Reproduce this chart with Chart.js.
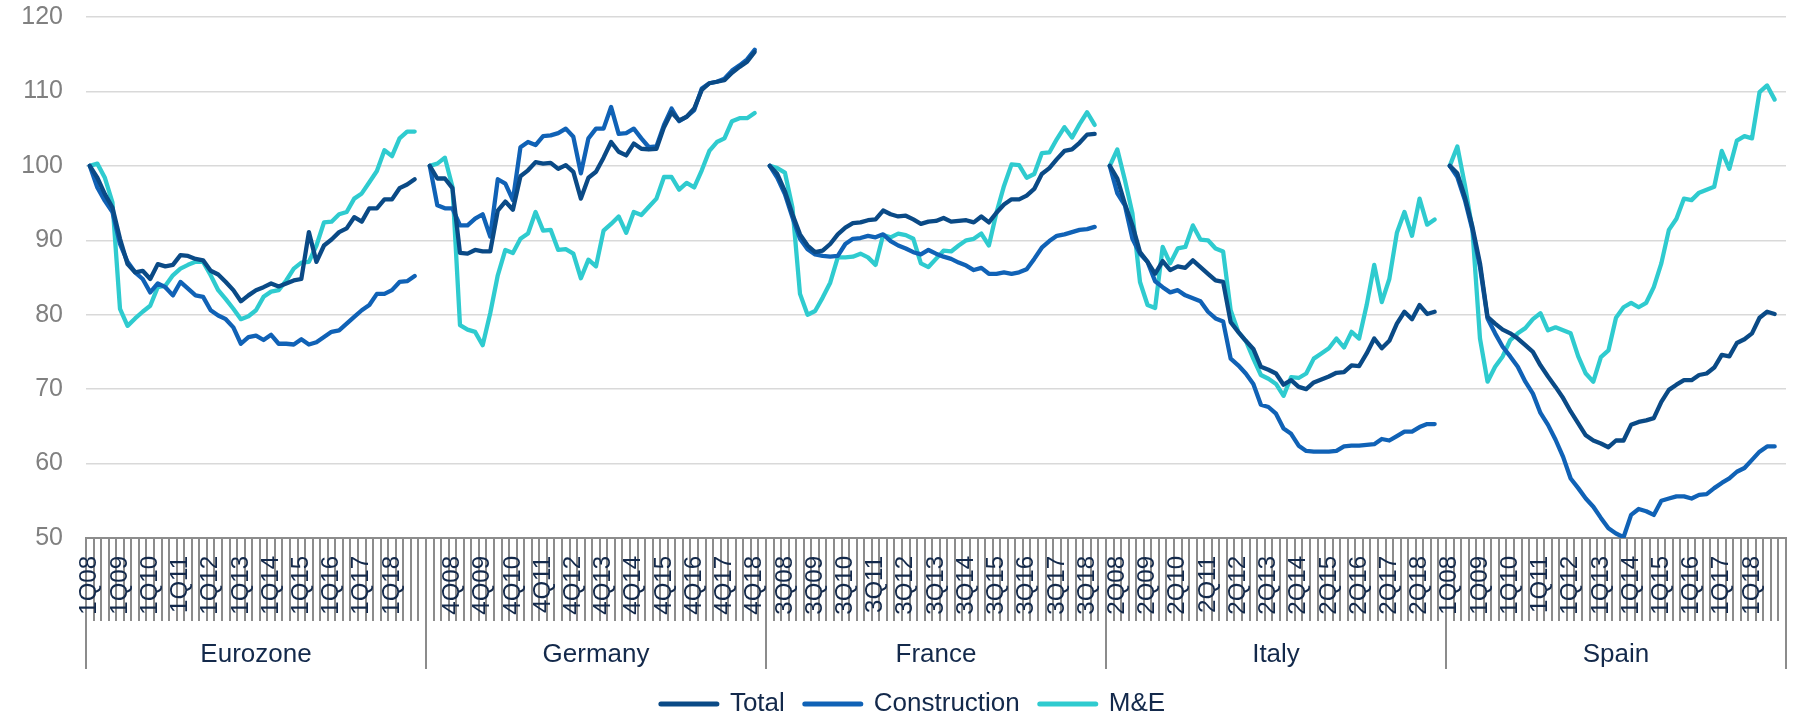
<!DOCTYPE html>
<html>
<head>
<meta charset="utf-8">
<script src="https://cdn.jsdelivr.net/npm/chart.js@4.4.0/dist/chart.umd.min.js"></script>
<style>
  html, body { margin: 0; padding: 0; background: #fff; }
  #wrap { width: 1797px; height: 718px; }
</style>
</head>
<body>
<div id="wrap"><canvas id="chart"></canvas></div>
<script>
const countries = ['Eurozone', 'Germany', 'France', 'Italy', 'Spain'];
const quarters = [
  '1Q08','2Q08','3Q08','4Q08','1Q09','2Q09','3Q09','4Q09','1Q10','2Q10','3Q10','4Q10',
  '1Q11','2Q11','3Q11','4Q11','1Q12','2Q12','3Q12','4Q12','1Q13','2Q13','3Q13','4Q13',
  '1Q14','2Q14','3Q14','4Q14','1Q15','2Q15','3Q15','4Q15','1Q16','2Q16','3Q16','4Q16',
  '1Q17','2Q17','3Q17','4Q17','1Q18','2Q18','3Q18','4Q18'
];

// Eurozone
const eurozoneTotal = [100, 98.4, 96.2, 94.4, 90.2, 86.8, 85.7, 85.9, 84.8, 86.8, 86.5, 86.7, 88.0, 87.9, 87.5, 87.3, 85.9, 85.4, 84.4, 83.3, 81.8, 82.6, 83.3, 83.7, 84.2, 83.8, 84.2, 84.6, 84.8, 91.1, 87.1, 89.3, 90.1, 91.1, 91.6, 93.1, 92.5, 94.3, 94.3, 95.5, 95.5, 97.0, 97.5, 98.2];
const eurozoneConstruction = [100, 97.1, 95.3, 93.8, 89.5, 87.1, 85.7, 84.8, 83.0, 84.2, 83.7, 82.6, 84.4, 83.5, 82.6, 82.4, 80.6, 79.9, 79.4, 78.3, 76.1, 77.0, 77.2, 76.6, 77.3, 76.1, 76.1, 76.0, 76.7, 76.0, 76.3, 77.0, 77.7, 77.9, 78.8, 79.7, 80.6, 81.3, 82.8, 82.8, 83.3, 84.4, 84.5, 85.2];
const eurozoneME = [100, 100.3, 98.4, 95.1, 80.8, 78.5, 79.5, 80.4, 81.2, 83.7, 83.9, 85.3, 86.2, 86.7, 87.1, 87.1, 85.3, 83.3, 82.1, 80.8, 79.4, 79.8, 80.6, 82.4, 83.1, 83.3, 84.6, 86.2, 87.0, 87.1, 89.3, 92.4, 92.5, 93.5, 93.8, 95.6, 96.3, 97.8, 99.3, 102.1, 101.3, 103.7, 104.6, 104.6];

// Germany
const germanyTotal = [100, 98.3, 98.3, 97.0, 88.3, 88.2, 88.7, 88.5, 88.5, 94.0, 95.2, 94.1, 98.6, 99.4, 100.5, 100.3, 100.4, 99.6, 100.1, 99.2, 95.6, 98.4, 99.2, 101.1, 103.2, 101.9, 101.4, 103.0, 102.3, 102.2, 102.3, 105.2, 107.2, 106.1, 106.6, 107.7, 110.2, 111.1, 111.3, 111.5, 112.5, 113.3, 114.0, 115.3];
const germanyConstruction = [100, 94.7, 94.3, 94.3, 92.0, 92.0, 92.9, 93.5, 90.5, 98.2, 97.6, 95.4, 102.5, 103.2, 102.8, 104.0, 104.1, 104.4, 105.0, 103.9, 99.0, 103.7, 105.0, 105.0, 107.9, 104.3, 104.4, 105.0, 103.7, 102.5, 102.6, 105.5, 107.7, 106.0, 106.6, 107.5, 110.4, 111.1, 111.3, 111.7, 112.8, 113.5, 114.3, 115.6];
const germanyME = [100, 100.3, 101.1, 97.2, 78.6, 78.0, 77.7, 75.9, 80.2, 85.3, 88.7, 88.3, 90.2, 90.9, 93.8, 91.3, 91.4, 88.7, 88.8, 88.2, 84.9, 87.4, 86.5, 91.3, 92.2, 93.2, 91.0, 93.8, 93.4, 94.5, 95.6, 98.5, 98.5, 96.8, 97.7, 97.1, 99.4, 102.0, 103.2, 103.7, 106.0, 106.4, 106.4, 107.1];

// France
const franceTotal = [100, 98.9, 96.6, 93.5, 90.8, 89.3, 88.4, 88.6, 89.5, 90.8, 91.7, 92.3, 92.4, 92.7, 92.8, 94.0, 93.5, 93.2, 93.3, 92.8, 92.2, 92.5, 92.6, 93.0, 92.5, 92.6, 92.7, 92.4, 93.2, 92.4, 93.7, 94.8, 95.5, 95.5, 96.0, 96.9, 98.9, 99.7, 100.9, 102.0, 102.2, 103.1, 104.2, 104.3];
const franceConstruction = [100, 98.4, 96.2, 93.1, 90.2, 88.8, 88.1, 87.9, 87.8, 87.9, 89.5, 90.2, 90.3, 90.6, 90.4, 90.8, 89.9, 89.3, 88.9, 88.4, 88.1, 88.7, 88.2, 87.8, 87.5, 87.0, 86.6, 86.0, 86.3, 85.5, 85.5, 85.7, 85.5, 85.7, 86.1, 87.5, 89.0, 89.9, 90.6, 90.8, 91.1, 91.4, 91.5, 91.8];
const franceME = [100, 99.7, 99.1, 94.4, 82.8, 80.0, 80.5, 82.3, 84.3, 87.7, 87.7, 87.8, 88.2, 87.7, 86.7, 90.7, 90.4, 90.9, 90.7, 90.2, 86.9, 86.4, 87.5, 88.6, 88.5, 89.3, 90.0, 90.2, 90.9, 89.3, 93.7, 97.3, 100.2, 100.1, 98.4, 98.9, 101.7, 101.8, 103.6, 105.2, 103.8, 105.6, 107.2, 105.5];

// Italy
const italyTotal = [100, 98.3, 94.9, 92.0, 88.4, 87.1, 85.5, 87.2, 86.0, 86.5, 86.3, 87.3, 86.4, 85.5, 84.6, 84.4, 79.0, 77.7, 76.5, 75.4, 73.0, 72.6, 72.1, 70.6, 71.2, 70.3, 70.0, 70.9, 71.3, 71.7, 72.2, 72.3, 73.2, 73.1, 74.8, 76.8, 75.5, 76.5, 78.8, 80.4, 79.4, 81.3, 80.1, 80.4];
const italyConstruction = [100, 96.3, 94.7, 90.2, 88.2, 87.1, 84.5, 83.7, 83.0, 83.3, 82.6, 82.2, 81.8, 80.4, 79.5, 79.1, 74.1, 73.2, 72.1, 70.7, 67.9, 67.6, 66.7, 64.7, 64.0, 62.4, 61.7, 61.6, 61.6, 61.6, 61.7, 62.3, 62.4, 62.4, 62.5, 62.6, 63.3, 63.1, 63.7, 64.3, 64.3, 64.9, 65.3, 65.3];
const italyME = [100, 102.2, 98.1, 93.6, 84.4, 81.3, 80.9, 89.1, 86.9, 88.9, 89.1, 92.0, 90.1, 90.0, 88.9, 88.5, 80.6, 77.7, 76.5, 74.1, 71.9, 71.4, 70.7, 69.1, 71.6, 71.5, 72.1, 74.1, 74.8, 75.5, 76.8, 75.6, 77.7, 76.8, 81.3, 86.7, 81.7, 84.8, 91.0, 93.8, 90.6, 95.6, 92.1, 92.8];

// Spain
const spainTotal = [100, 99.0, 95.8, 91.8, 86.9, 79.7, 78.8, 78.0, 77.5, 76.8, 75.9, 75.0, 73.2, 71.7, 70.3, 68.8, 67.0, 65.4, 63.8, 63.1, 62.7, 62.2, 63.1, 63.1, 65.2, 65.6, 65.8, 66.1, 68.3, 69.9, 70.6, 71.2, 71.2, 71.9, 72.1, 72.9, 74.6, 74.4, 76.2, 76.7, 77.5, 79.6, 80.4, 80.1];
const spainConstruction = [100, 98.5, 95.4, 91.4, 86.4, 79.5, 77.5, 75.7, 74.4, 73.0, 71.0, 69.4, 66.8, 65.2, 63.2, 60.9, 58.0, 56.7, 55.3, 54.2, 52.7, 51.3, 50.6, 50.1, 53.1, 53.9, 53.6, 53.1, 55.0, 55.3, 55.6, 55.6, 55.3, 55.8, 55.9, 56.7, 57.4, 58.0, 58.9, 59.4, 60.5, 61.6, 62.3, 62.3];
const spainME = [100, 102.6, 97.4, 91.4, 76.8, 71.0, 73.0, 74.4, 76.6, 77.5, 78.2, 79.4, 80.2, 77.9, 78.3, 77.9, 77.5, 74.4, 72.1, 71.0, 74.3, 75.2, 79.6, 81.0, 81.6, 81.0, 81.6, 83.7, 86.9, 91.4, 92.9, 95.6, 95.4, 96.4, 96.8, 97.2, 102.0, 99.6, 103.4, 104.0, 103.7, 109.9, 110.8, 108.9];

const seriesNames = ['Total', 'Construction', 'M&E'];
const seriesColors = ['#0a4a86', '#1062b6', '#2fcbcf'];
const totalByCountry = [eurozoneTotal, germanyTotal, franceTotal, italyTotal, spainTotal];
const constructionByCountry = [eurozoneConstruction, germanyConstruction, franceConstruction, italyConstruction, spainConstruction];
const meByCountry = [eurozoneME, germanyME, franceME, italyME, spainME];

// each country block = 44 quarters + one empty slot that breaks the line
const groupSize = quarters.length + 1;
const labels = [];
countries.forEach(() => { labels.push(...quarters, ''); });
const flatten = (blocks) => {
  const out = [];
  blocks.forEach(b => { out.push(...b, null); });
  return out;
};

const navy = '#13294b';
const font = 'Liberation Sans, Arial, sans-serif';

// tick marks, group separators and country names under the x axis
const groupAxis = {
  id: 'groupAxis',
  afterLayout(chart) {
    // legend sits a little right of centre in the original
    chart.legend.left += 20;
    chart.legend.right += 20;
  },
  beforeDraw(chart) {
    const ctx = chart.ctx;
    const x = chart.scales.x;
    const bottom = chart.chartArea.bottom;
    const n = labels.length;
    const step = x.getPixelForValue(1) - x.getPixelForValue(0);
    ctx.save();
    ctx.strokeStyle = '#8c8c8c';
    ctx.lineWidth = 2;
    ctx.beginPath();
    for (let k = 0; k <= n; k++) {
      const px = Math.round(x.getPixelForValue(0) + (k - 0.5) * step);
      const len = k % groupSize === 0 ? 131 : 83;
      ctx.moveTo(px, bottom);
      ctx.lineTo(px, bottom + len);
    }
    ctx.stroke();
    ctx.fillStyle = navy;
    ctx.font = '26px ' + font;
    ctx.textAlign = 'center';
    ctx.textBaseline = 'middle';
    countries.forEach((c, g) => {
      const a = x.getPixelForValue(g * groupSize);
      const b = x.getPixelForValue(g * groupSize + groupSize - 1);
      ctx.fillText(c, (a + b) / 2, bottom + 117);
    });
    ctx.restore();
  }
};

const makeSet = (i, data) => ({
  label: seriesNames[i],
  data: data,
  borderColor: seriesColors[i],
  backgroundColor: seriesColors[i],
  borderWidth: 4.3,
  pointRadius: 0,
  pointHoverRadius: 0
});

new Chart(document.getElementById('chart'), {
  type: 'line',
  data: {
    labels: labels,
    datasets: [
      makeSet(0, flatten(totalByCountry)),
      makeSet(1, flatten(constructionByCountry)),
      makeSet(2, flatten(meByCountry))
    ]
  },
  options: {
    responsive: true,
    maintainAspectRatio: false,
    animation: false,
    spanGaps: false,
    layout: { padding: { top: 17, right: 11, left: 0, bottom: -9 } },
    elements: {
      line: { tension: 0, borderJoinStyle: 'round', borderCapStyle: 'round', fill: false }
    },
    plugins: {
      tooltip: { enabled: false },
      legend: {
        position: 'bottom',
        labels: {
          usePointStyle: true,
          pointStyle: 'line',
          pointStyleWidth: 56,
          color: navy,
          padding: 20,
          font: { family: font, size: 26, lineHeight: 1 },
          generateLabels: (chart) => {
            const items = Chart.defaults.plugins.legend.labels.generateLabels(chart);
            items.forEach(it => { it.lineWidth = 5; it.lineCap = 'round'; it.strokeStyle = it.fillStyle; });
            return items;
          }
        }
      }
    },
    scales: {
      x: {
        offset: true,
        grid: { display: false, drawTicks: false },
        border: { display: true, color: '#8c8c8c', width: 2 },
        ticks: {
          autoSkip: false,
          minRotation: 90,
          maxRotation: 90,
          padding: 18,
          color: navy,
          font: { family: font, size: 24 },
          callback: (v, i) => (i % 4 === 0 ? labels[i] : '')
        },
        afterFit: (s) => { s.height = 133; s.paddingLeft = 0; s.paddingRight = 0; }
      },
      y: {
        min: 50,
        max: 120,
        ticks: { stepSize: 10, color: '#808080', padding: 23, font: { family: font, size: 25 } },
        grid: { color: '#d9d9d9', lineWidth: 1.5, drawTicks: false },
        border: { display: false },
        afterFit: (s) => { s.width = 86; s.paddingTop = 0; s.paddingBottom = 0; }
      }
    }
  },
  plugins: [groupAxis]
});
</script>
</body>
</html>
